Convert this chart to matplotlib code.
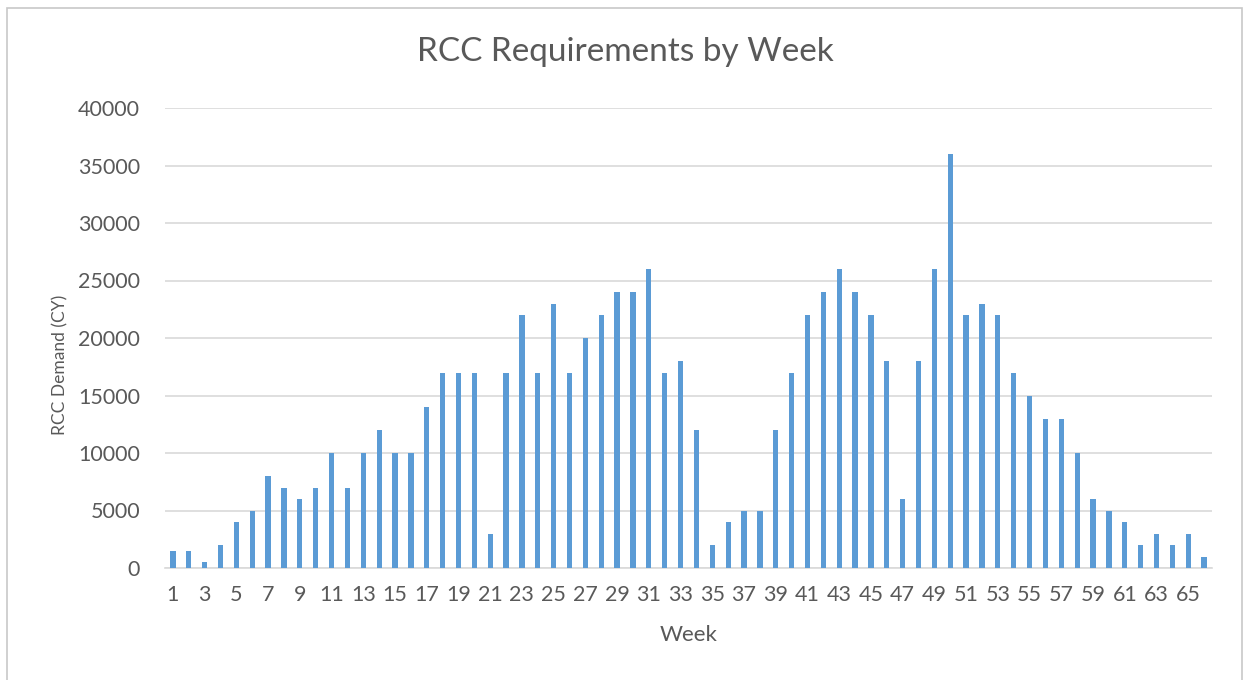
import matplotlib
matplotlib.use("Agg")
import matplotlib.pyplot as plt
from matplotlib.patches import Rectangle

weeks = list(range(1, 67))
demand = [
    1500, 1500, 500, 2000, 4000, 5000, 8000, 7000, 6000, 7000,
    10000, 7000, 10000, 12000, 10000, 10000, 14000, 17000, 17000, 17000,
    3000, 17000, 22000, 17000, 23000, 17000, 20000, 22000, 24000, 24000,
    26000, 17000, 18000, 12000, 2000, 4000, 5000, 5000, 12000, 17000,
    22000, 24000, 26000, 24000, 22000, 18000, 6000, 18000, 26000, 36000,
    22000, 23000, 22000, 17000, 15000, 13000, 13000, 10000, 6000, 5000,
    4000, 2000, 3000, 2000, 3000, 1000,
]
y_ticks = list(range(0, 40001, 5000))
x_tick_labels = [str(w) for w in weeks[::2]]

title = "RCC Requirements by Week"
x_label = "Week"
y_label = "RCC Demand (CY)"

BAR = "#5B9BD5"
GRID = "#D9D9D9"
TEXT = "#595959"

plt.rcParams["font.family"] = ["Lato", "DejaVu Sans"]

fig = plt.figure(figsize=(12.44, 6.8), dpi=100)
fig.patch.set_facecolor("white")

# chart-area frame
fig.patches.append(Rectangle((7 / 1244, -0.05), 1235 / 1244, 1 - 8 / 680 + 0.05,
                             transform=fig.transFigure, fill=False,
                             edgecolor="#C8C8C8", linewidth=1.2))

ax = fig.add_axes([165 / 1244, 1 - 568 / 680, (1212 - 165) / 1244, (568 - 108) / 680])
ax.bar(weeks, demand, width=0.33, color=BAR, zorder=3)

ax.set_xlim(0.5, 66.5)
ax.set_ylim(0, 40000)
ax.set_yticks(y_ticks)
ax.set_yticklabels([str(v) for v in y_ticks])
ax.set_xticks(weeks[::2])
ax.set_xticklabels(x_tick_labels)

ax.grid(axis="y", color=GRID, linewidth=1.2, zorder=0)
for side in ("top", "right", "left"):
    ax.spines[side].set_visible(False)
ax.spines["bottom"].set_color(GRID)
ax.spines["bottom"].set_linewidth(1.2)
ax.tick_params(axis="both", length=0, colors=TEXT, labelsize=15.5)
ax.tick_params(axis="y", pad=18)
ax.tick_params(axis="x", pad=12)

ax.set_xlabel(x_label, fontsize=16, color=TEXT, va="center")
ax.xaxis.set_label_coords(0.5, -0.1457)
ax.set_ylabel(y_label, fontsize=12.5, color=TEXT, va="center")
ax.yaxis.set_label_coords(-0.1003, 0.441)
fig.text(0.5025, 1 - 52 / 680, title, fontsize=24, color=TEXT,
         ha="center", va="center")

fig.savefig("out.png", dpi=100, facecolor="white")
